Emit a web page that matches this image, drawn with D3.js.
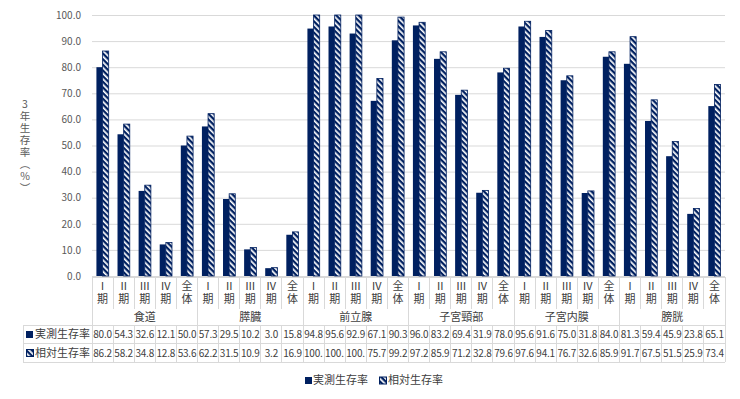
<!DOCTYPE html>
<html><head><meta charset="utf-8">
<script src="https://cdn.jsdelivr.net/npm/d3@7/dist/d3.min.js"></script>
<style>
html,body{margin:0;padding:0;background:#fff;}
svg{display:block;font-family:"Noto Sans CJK JP","Noto Sans",sans-serif;}
</style></head>
<body>
<svg id="c" width="740" height="399"></svg>
<script>
// ---- data ----
const groups = ["食道","膵臓","前立腺","子宮頸部","子宮内膜","膀胱"];
const stages = ["Ⅰ期","Ⅱ期","Ⅲ期","Ⅳ期","全体"];
const seriesNames = ["実測生存率","相対生存率"];
const yTitle = "3年生存率（%）";
const observed = [
  80.0,54.3,32.6,12.1,50.0,
  57.3,29.5,10.2,3.0,15.8,
  94.8,95.6,92.9,67.1,90.3,
  96.0,83.2,69.4,31.9,78.0,
  95.6,91.6,75.0,31.8,84.0,
  81.3,59.4,45.9,23.8,65.1
];
const relative = [
  86.2,58.2,34.8,12.8,53.6,
  62.2,31.5,10.9,3.2,16.9,
  100.0,100.0,100.0,75.7,99.2,
  97.2,85.9,71.2,32.8,79.6,
  97.6,94.1,76.7,32.6,85.9,
  91.7,67.5,51.5,25.9,73.4
];
const yTicks = [0,10,20,30,40,50,60,70,80,90,100];

// ---- build ----
const cats = [];
groups.forEach((g,gi)=>stages.forEach((s,si)=>cats.push({g,gi,s,si,i:gi*5+si})));
const series = [observed, relative];

const navy = "#002060", grid = "#d9d9d9", axisText = "#595959", tblText = "#404040";
const L = 92, R = 725, Y0 = 276, Y100 = 15;
const svg = d3.select("#c");

const x = d3.scaleBand().domain(cats.map(d=>d.i)).range([L,R]).padding(0);
const x1 = d3.scaleBand().domain([0,1]).range([0,x.bandwidth()]).paddingInner(0).paddingOuter(0.72);
const y = d3.scaleLinear().domain([0,100]).range([Y0,Y100]);

// pattern
const defs = svg.append("defs");
const pat = defs.append("pattern").attr("id","hatch").attr("patternUnits","userSpaceOnUse")
  .attr("width",4).attr("height",4).attr("patternTransform","rotate(-45)");
pat.append("rect").attr("width",4).attr("height",4).attr("fill",navy);
pat.append("rect").attr("x",0).attr("width",1.7).attr("height",4).attr("fill","#fff");

// gridlines + y axis labels
const yAxis = d3.axisLeft(y).tickValues(yTicks).tickFormat(d=>d.toFixed(1)).tickSize(-(R-L)).tickPadding(11);
const ga = svg.append("g").attr("transform",`translate(${L},0)`).call(yAxis);
ga.select(".domain").remove();
ga.selectAll(".tick line").attr("stroke",grid).attr("stroke-width",1);
ga.selectAll(".tick text").attr("fill",axisText).attr("font-size",10)
  .attr("font-family","'Noto Sans CJK JP',sans-serif");

// y title (vertical, upright)
svg.append("text").attr("x",25).attr("y",99)
  .style("writing-mode","vertical-rl").style("text-orientation","upright")
  .attr("font-size",10.5).attr("letter-spacing",1.4).attr("fill",axisText).text(yTitle);

// bars
const gb = svg.append("g");
series.forEach((vals,k)=>{
  gb.append("g").selectAll("rect").data(cats).join("rect")
    .attr("x",d=>x(d.i)+x1(k)).attr("width",x1.bandwidth())
    .attr("y",d=>y(vals[d.i])).attr("height",d=>y(0)-y(vals[d.i]))
    .attr("fill",k===0?navy:"url(#hatch)")
    .attr("stroke",k===0?"none":navy).attr("stroke-width",k===0?0:0.8);
});

// ---- data table ----
const T0 = 277, Tcat = 309, Tr1 = 325, Tr2 = 343, Tr3 = 362, Lh = 23;
const gt = svg.append("g").attr("stroke",grid).attr("stroke-width",1).attr("shape-rendering","crispEdges");
gt.append("line").attr("x1",L).attr("x2",R).attr("y1",T0).attr("y2",T0);
[Tr1,Tr2,Tr3].forEach(yy=>gt.append("line").attr("x1",Lh).attr("x2",R).attr("y1",yy).attr("y2",yy));
gt.append("line").attr("x1",Lh).attr("x2",Lh).attr("y1",Tr1).attr("y2",Tr3);
cats.forEach(d=>{
  const xx = x(d.i);
  if(d.si===0){
    gt.append("line").attr("x1",xx).attr("x2",xx).attr("y1",T0).attr("y2",Tr3);
  } else {
    gt.append("line").attr("x1",xx).attr("x2",xx).attr("y1",T0).attr("y2",Tcat);
    gt.append("line").attr("x1",xx).attr("x2",xx).attr("y1",Tr1).attr("y2",Tr3);
  }
});
gt.append("line").attr("x1",R).attr("x2",R).attr("y1",T0).attr("y2",Tr3);

// category labels (vertical upright text: numeral above 期)
const gc = svg.append("g").attr("fill",tblText).attr("font-size",11);
cats.forEach(d=>{
  const cx = x(d.i)+x.bandwidth()/2;
  gc.append("text").attr("x",cx).attr("y",280)
    .style("writing-mode","vertical-rl").style("text-orientation","upright")
    .attr("letter-spacing",2).text(d.s);
});
// group labels
groups.forEach((g,gi)=>{
  const x0 = x(gi*5), x5 = x(gi*5+4)+x.bandwidth();
  gc.append("text").attr("x",(x0+x5)/2).attr("y",317).attr("dy","0.35em")
    .attr("text-anchor","middle").text(g);
});

// value rows
const rowY = [334.5, 353];
series.forEach((vals,k)=>{
  const hg = svg.append("g");
  if(k===0){
    hg.append("rect").attr("x",26).attr("y",rowY[k]-3.5).attr("width",7).attr("height",7).attr("fill",navy);
  } else {
    hg.append("rect").attr("x",26.5).attr("y",rowY[k]-3.5).attr("width",7).attr("height",7).attr("fill","url(#hatch)").attr("stroke",navy).attr("stroke-width",1);
  }
  hg.append("text").attr("x",35).attr("y",rowY[k]).attr("dy","0.35em").attr("font-size",11)
    .attr("fill",tblText).text(seriesNames[k]);
  cats.forEach(d=>{
    const cx0 = x(d.i), bw = x.bandwidth();
    const full = vals[d.i].toFixed(1);
    const t = svg.append("text")
      .attr("x",cx0+bw/2).attr("y",rowY[k]).attr("dy","0.35em").attr("text-anchor","middle")
      .attr("font-size",10).attr("fill",tblText).attr("letter-spacing",-0.2)
      .text(full);
    // cell too narrow: truncate like the spreadsheet's data table does
    let s = full;
    if(t.node().getComputedTextLength() > bw-1){
      t.attr("text-anchor","start").attr("x",cx0+1);
      while(s.length>1 && t.node().getComputedTextLength() > bw-2){
        s = s.slice(0,-1); t.text(s);
      }
    }
  });
});

// legend
const lg = svg.append("g").attr("font-size",11).attr("fill",tblText);
lg.append("rect").attr("x",305).attr("y",377).attr("width",7).attr("height",7).attr("fill",navy);
lg.append("text").attr("x",313).attr("y",380.5).attr("dy","0.35em").text(seriesNames[0]);
lg.append("rect").attr("x",379.5).attr("y",377).attr("width",7).attr("height",7).attr("fill","url(#hatch)").attr("stroke",navy);
lg.append("text").attr("x",388).attr("y",380.5).attr("dy","0.35em").text(seriesNames[1]);
</script>
</body></html>
